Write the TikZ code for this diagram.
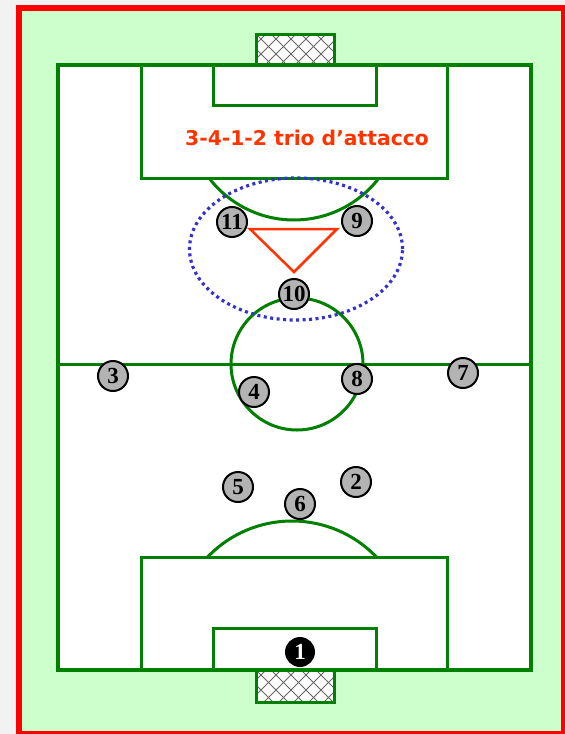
\documentclass[tikz,border=0pt]{standalone}
\usepackage{fontspec}
\newfontfamily\titlefont{DejaVu Sans}
\newfontfamily\numfont{Liberation Serif}
\definecolor{bggrey}{HTML}{F2F2F2}
\definecolor{lawn}{HTML}{CCFFCC}
\definecolor{linegreen}{HTML}{008000}
\definecolor{titlered}{HTML}{FF3300}
\definecolor{dotblue}{HTML}{3333CC}
\definecolor{playergrey}{HTML}{B3B3B3}
\tikzset{
  fieldline/.style={draw=linegreen, line width=3pt},
  player/.style={circle, draw=black, line width=2pt, fill=playergrey, minimum size=30pt, inner sep=0pt, font=\numfont\bfseries\fontsize{23}{23}\selectfont},
  keeper/.style={circle, draw=black, line width=2pt, fill=black, text=white, minimum size=28pt, inner sep=0pt, font=\numfont\bfseries\fontsize{23}{23}\selectfont},
  net/.style={draw=black!60, line width=1pt}
}
\begin{document}
\begin{tikzpicture}[x=1pt,y=-1pt]
\useasboundingbox (0,0) rectangle (565,734);
\fill[bggrey] (0,0) rectangle (565,734);
\begin{scope}
\clip (0,0) rectangle (565,734);
\draw[red, line width=6pt, fill=lawn] (19,8) rectangle (564,734);
\end{scope}
% goals
\foreach \gy/\gh in {34/65, 670/702}{
  \fill[white] (256,\gy) rectangle (334,\gh);
  \begin{scope}
    \clip (256,\gy) rectangle (334,\gh);
    \foreach \k in {-60,-45,...,120}{
      \draw[net] (256+\k,\gy) -- ++(40,40);
      \draw[net] (256+\k+40,\gy) -- ++(-40,40);
    }
  \end{scope}
  \draw[draw=linegreen, line width=3pt] (256,\gy) rectangle (334,\gh);
}
% field
\fill[white] (58,65) rectangle (531,670);
% halfway line and centre circle
\draw[fieldline] (58,364) -- (531,364);
\draw[fieldline] (297,364) circle[radius=66pt];
% top penalty area
\draw[fieldline] (141,65) rectangle (447,178);
\draw[fieldline] (213,65) rectangle (376,105);
\begin{scope}
\clip (120,178) rectangle (470,260);
\draw[fieldline] (294,113) circle[radius=107pt];
\end{scope}
% bottom penalty area
\draw[fieldline] (141,557) rectangle (447,670);
\draw[fieldline] (213,628) rectangle (376,670);
\begin{scope}
\clip (120,480) rectangle (470,557);
\draw[fieldline] (292,638) circle[radius=117pt];
\end{scope}
\draw[draw=linegreen, line width=4.5pt] (58,65) rectangle (531,670);
% title
\node[font=\titlefont\bfseries\fontsize{20.3}{20.3}\selectfont, text=titlered] (title) at (307,138) {3-4-1-2 trio d’attacco};
% dotted ellipse
\draw[dotblue, line width=3.2pt, dash pattern=on 3pt off 3.5pt] (296,249) ellipse [x radius=106.5pt, y radius=71pt];
% triangle
\draw[titlered, line width=2.5pt] (250,229) -- (337,229) -- (294,272) -- cycle;
% players
\node[player] (p11) at (232,222) {11};
\node[player] (p9) at (357,221) {9};
\node[player] (p10) at (294,294) {10};
\node[player] (p3) at (113,376) {3};
\node[player] (p4) at (254,392) {4};
\node[player] (p8) at (357,379) {8};
\node[player] (p7) at (463,373) {7};
\node[player] (p5) at (238,487) {5};
\node[player] (p2) at (356,482) {2};
\node[player] (p6) at (300,504) {6};
\node[keeper] (p1) at (300,652) {1};
\end{tikzpicture}
\end{document}
